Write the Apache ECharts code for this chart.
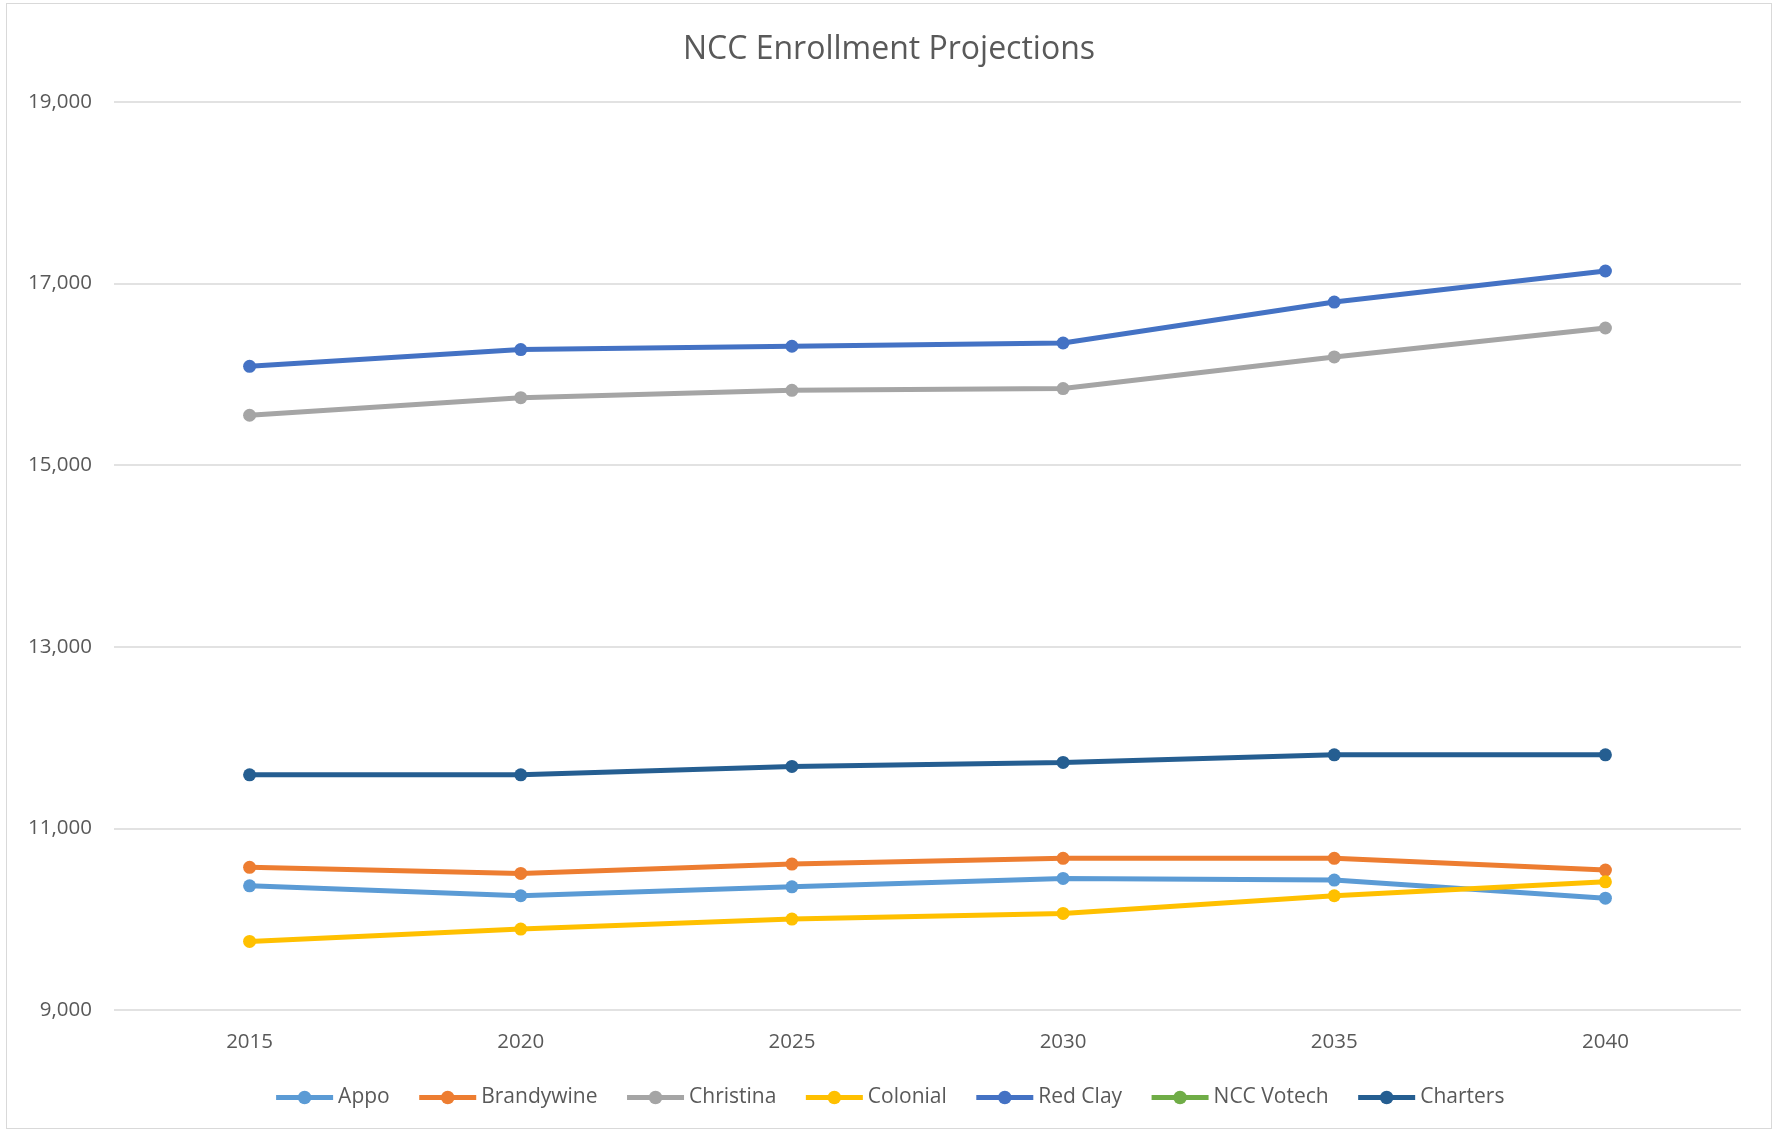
<!DOCTYPE html>
<html>
<head>
<meta charset="utf-8">
<style>
	html, body { margin: 0; padding: 0; background: #fff; }
	#chart { position: absolute; left: 6px; top: 3px; width: 1766px; height: 1126px; border: 1px solid #d9d9d9; box-sizing: border-box; }
</style>
<script src="https://cdn.jsdelivr.net/npm/echarts@6/dist/echarts.min.js"></script>
</head>
<body>
<div id="chart"></div>
<script>
	// 数据
	var years = ['2015', '2020', '2025', '2030', '2035', '2040'];
	var appo = [10368, 10258, 10357, 10449, 10431, 10232];
	var brandywine = [10571, 10504, 10607, 10670, 10670, 10541];
	var christina = [15550, 15744, 15825, 15844, 16192, 16511];
	var colonial = [9755, 9891, 10001, 10064, 10258, 10412];
	var redClay = [16089, 16273, 16310, 16346, 16797, 17139];
	var nccVotech = [null, null, null, null, null, null];
	var charters = [11590, 11590, 11683, 11727, 11810, 11810];

	var names = ['Appo', 'Brandywine', 'Christina', 'Colonial', 'Red Clay', 'NCC Votech', 'Charters'];
	var colors = ['#5B9BD5', '#ED7D31', '#A5A5A5', '#FFC000', '#4472C4', '#70AD47', '#255E91'];
	var values = [appo, brandywine, christina, colonial, redClay, nccVotech, charters];

	var font = '"Open Sans", "Noto Sans", sans-serif';

	var series = [];
	for (var i = 0; i < names.length; i++) {
		series.push({
			name: names[i],
			type: 'line',
			data: values[i],
			symbol: 'circle',
			symbolSize: 13,
			lineStyle: { width: 5, color: colors[i] },
			itemStyle: { color: colors[i] }
		});
	}

	var myChart = echarts.init(document.getElementById('chart'));
	var option = {
		animation: false,
		title: {
			text: 'NCC Enrollment Projections',
			left: 'center',
			top: 25,
			textStyle: { fontFamily: font, fontSize: 32, fontWeight: 'normal', color: '#595959' }
		},
		grid: { left: 107, right: 30, top: 98, bottom: 118 },
		legend: {
			bottom: 15,
			left: 'center',
			itemWidth: 57,
			itemHeight: 17,
			itemGap: 27,
			lineStyle: { width: 5 },
			textStyle: { fontFamily: font, fontSize: 21, color: '#595959' },
			data: names
		},
		xAxis: {
			type: 'category',
			data: years,
			boundaryGap: true,
			axisLine: { show: false },
			axisTick: { show: false },
			axisLabel: { fontFamily: font, fontSize: 20.5, color: '#595959', margin: 22 }
		},
		yAxis: {
			type: 'value',
			min: 9000,
			max: 19000,
			interval: 2000,
			axisLine: { show: false },
			axisTick: { show: false },
			splitLine: { lineStyle: { color: '#d9d9d9', width: 1.5 } },
			axisLabel: {
				fontFamily: font, fontSize: 20.5, color: '#595959', margin: 22,
				formatter: function (v) { return v.toLocaleString('en-US'); }
			}
		},
		series: series
	};
	myChart.setOption(option);
</script>
</body>
</html>
